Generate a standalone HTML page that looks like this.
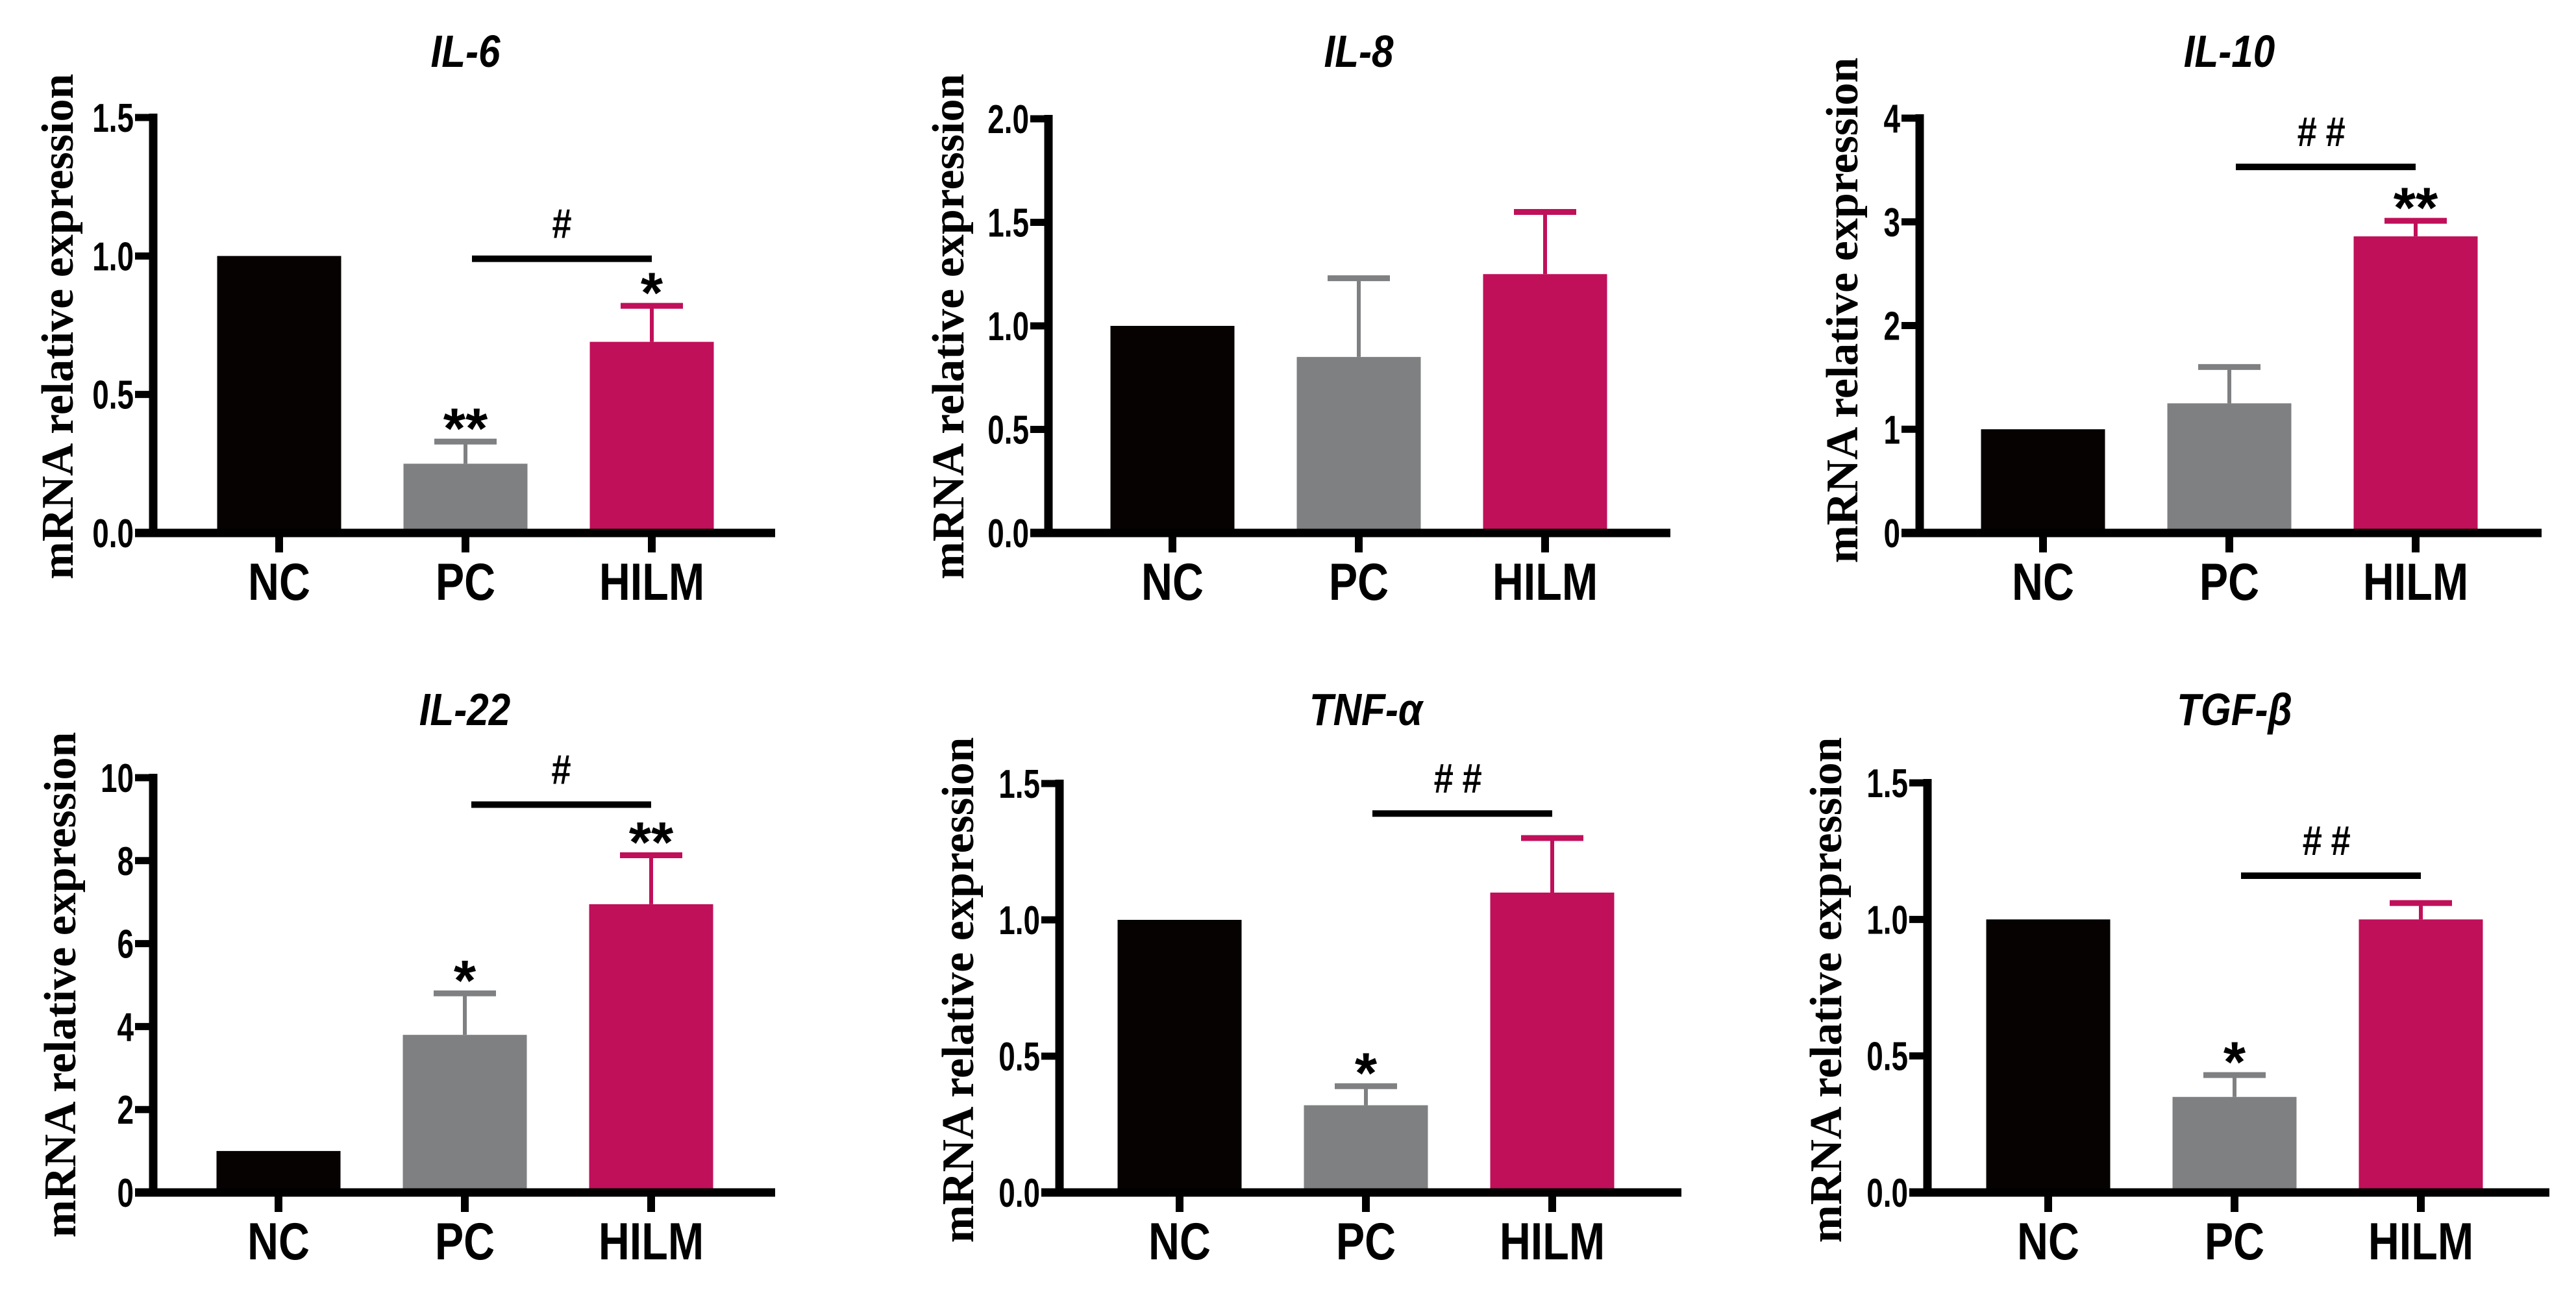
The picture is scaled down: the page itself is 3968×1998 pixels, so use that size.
<!DOCTYPE html>
<html><head><meta charset="utf-8"><style>
html,body{margin:0;padding:0;background:#fff;}
svg{display:block;}
</style></head><body>
<svg id="fig" width="3968" height="1998" viewBox="0 0 3968 1998" xmlns="http://www.w3.org/2000/svg"></svg>
<script>
const categories = ["NC", "PC", "HILM"];
const titles = ["IL-6", "IL-8", "IL-10", "IL-22", "TNF-α", "TGF-β"];
const meansIL6 = [1.0, 0.25, 0.69];
const errsIL6 = [0, 0.08, 0.13];
const meansIL8 = [1.0, 0.85, 1.25];
const errsIL8 = [0, 0.38, 0.30];
const meansIL10 = [1.0, 1.25, 2.86];
const errsIL10 = [0, 0.35, 0.15];
const meansIL22 = [1.0, 3.8, 6.95];
const errsIL22 = [0, 1.0, 1.18];
const meansTNF = [1.0, 0.32, 1.10];
const errsTNF = [0, 0.07, 0.20];
const meansTGF = [1.0, 0.35, 1.0];
const errsTGF = [0, 0.08, 0.06];
const yMaxes = [1.5, 2.0, 4, 10, 1.5, 1.5];
const tickIL6 = ["0.0", "0.5", "1.0", "1.5"];
const tickIL8 = ["0.0", "0.5", "1.0", "1.5", "2.0"];
const tickIL10 = ["0", "1", "2", "3", "4"];
const tickIL22 = ["0", "2", "4", "6", "8", "10"];
const tickTNF = ["0.0", "0.5", "1.0", "1.5"];
const tickTGF = ["0.0", "0.5", "1.0", "1.5"];
const starsIL6 = ["", "**", "*"];
const starsIL8 = ["", "", ""];
const starsIL10 = ["", "", "**"];
const starsIL22 = ["", "*", "**"];
const starsTNF = ["", "*", ""];
const starsTGF = ["", "*", ""];
const hashLabels = ["#", "", "##", "#", "##", "##"];
const hashValues = [0.99, 0, 3.53, 9.35, 1.39, 1.16];

const means = [meansIL6, meansIL8, meansIL10, meansIL22, meansTNF, meansTGF];
const errs = [errsIL6, errsIL8, errsIL10, errsIL22, errsTNF, errsTGF];
const ticks = [tickIL6, tickIL8, tickIL10, tickIL22, tickTNF, tickTGF];
const stars = [starsIL6, starsIL8, starsIL10, starsIL22, starsTNF, starsTGF];

const layout = [
  {ax:236, y0:821, yt:181, off:194, titleY:103, ytx:88, yty:503},
  {ax:1615, y0:821, yt:183, off:191, titleY:103, ytx:1460, yty:503},
  {ax:2957, y0:821, yt:182, off:190, titleY:103, ytx:2837, yty:478},
  {ax:236, y0:1837, yt:1198, off:193, titleY:1117, ytx:92, yty:1517},
  {ax:1632, y0:1837, yt:1207, off:185, titleY:1117, ytx:1475, yty:1525},
  {ax:2969, y0:1837, yt:1206, off:186, titleY:1117, ytx:2812, yty:1525}
];
const colors = ["#060202", "#7f8082", "#c0105a"];
const NS = "http://www.w3.org/2000/svg";
const svg = document.getElementById("fig");
function mk(tag, attrs, parent){
  const e = document.createElementNS(NS, tag);
  for (const k in attrs) e.setAttribute(k, attrs[k]);
  (parent||svg).appendChild(e);
  return e;
}
const slugs = ["il-6","il-8","il-10","il-22","tnf-alpha","tgf-beta"];
for (let p = 0; p < 6; p++) {
  const L = layout[p];
  const g = mk("g", {});
  
  
  const yMax = yMaxes[p];
  const ys = v => L.y0 - v / yMax * (L.y0 - L.yt);
  const xs = i => L.ax + L.off + 287 * i;
  const bw = 191;
  for (let i = 0; i < 3; i++) {
    const top = ys(means[p][i]);
    const r = mk("rect", {x: xs(i) - bw/2, y: top, width: bw, height: L.y0 - 6 - top, fill: colors[i]}, g);
    
    
    if (errs[p][i] > 0) {
      const et = ys(means[p][i] + errs[p][i]);
      const eg = mk("g", {stroke: colors[i]}, g);
      
      
      mk("line", {x1: xs(i), x2: xs(i), y1: top, y2: et, "stroke-width": 6}, eg);
      mk("line", {x1: xs(i) - 48, x2: xs(i) + 48, y1: et, y2: et, "stroke-width": 9}, eg);
    }
    if (stars[p][i]) {
      const et = ys(means[p][i] + errs[p][i]);
      const s = mk("text", {x: xs(i), y: et - 40 + 50, "text-anchor": "middle", "font-family": "Liberation Sans, sans-serif", "font-weight": "bold", "font-size": 88, fill: "#000"}, g);
      s.textContent = stars[p][i];
      
      
    }
  }
  if (hashLabels[p]) {
    const by = ys(hashValues[p]);
    const b = mk("line", {x1: xs(1) + 10, x2: xs(2), y1: by, y2: by, stroke: "#000", "stroke-width": 10}, g);
    
    
    const h = mk("text", {transform: `translate(${(xs(1) + xs(2)) / 2 + 5},${by - 32}) scale(0.85,1)`, "text-anchor": "middle", "font-family": "Liberation Sans, sans-serif", "font-weight": "bold", "font-size": 64, "letter-spacing": hashLabels[p].length > 1 ? 16 : 0, fill: "#000"}, g);
    h.textContent = hashLabels[p];
    
    
  }
  const axg = mk("g", {stroke: "#000"}, g);
  
  
  mk("line", {x1: L.ax, x2: L.ax, y1: L.yt - 6, y2: L.y0 + 6, "stroke-width": 13}, axg);
  mk("line", {x1: L.ax - 28, x2: L.ax + 958, y1: L.y0, y2: L.y0, "stroke-width": 13}, axg);
  const tl = ticks[p];
  for (let t = 0; t < tl.length; t++) {
    const v = parseFloat(tl[t]);
    const ty = ys(v);
    mk("line", {x1: L.ax - 28, x2: L.ax, y1: ty, y2: ty, "stroke-width": 11}, axg);
    const tx = mk("text", {transform: `translate(${L.ax - 30},${ty + 22}) scale(0.74,1)`, "text-anchor": "end", "font-family": "Liberation Sans, sans-serif", "font-weight": "bold", "font-size": 62, fill: "#000", stroke: "none"}, g);
    tx.textContent = tl[t];
    
    
  }
  for (let i = 0; i < 3; i++) {
    mk("line", {x1: xs(i), x2: xs(i), y1: L.y0, y2: L.y0 + 30, "stroke-width": 12}, axg);
    const c = mk("text", {transform: `translate(${xs(i)},${L.y0 + 103}) scale(0.82,1)`, "text-anchor": "middle", "font-family": "Liberation Sans, sans-serif", "font-weight": "bold", "font-size": 81, fill: "#000"}, g);
    c.textContent = categories[i];
    
    
  }
  const tt = mk("text", {transform: `translate(${xs(1)},${L.titleY}) scale(0.86,1)`, "text-anchor": "middle", "font-family": "Liberation Sans, sans-serif", "font-weight": "bold", "font-style": "italic", "font-size": 70, fill: "#000"}, g);
  tt.textContent = titles[p];
  
  
  const yt = mk("text", {transform: `translate(${L.ytx + 24},${L.yty}) rotate(-90)`, "text-anchor": "middle", "font-family": "Liberation Serif, serif", "font-weight": "bold", "font-size": 70, fill: "#000"}, g);
  yt.textContent = "mRNA relative expression";
  
  
}
</script>
</body></html>
